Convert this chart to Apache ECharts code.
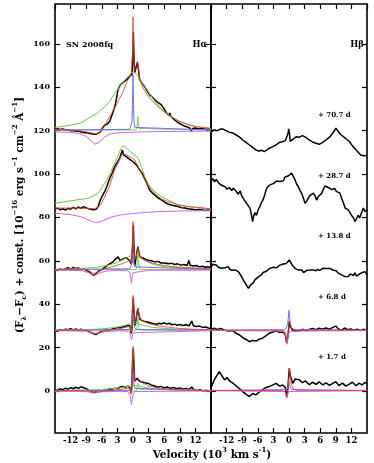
<!DOCTYPE html>
<html><head><meta charset="utf-8">
<script src="https://cdn.jsdelivr.net/npm/echarts@6/dist/echarts.min.js"></script>
<style>html,body{margin:0;padding:0;background:#fff}#c{width:374px;height:463px}</style>
</head><body><div id="c"></div>
<script>
// ---------------- DATA ----------------
const epochs = ['+ 70.7 d', '+ 28.7 d', '+ 13.8 d', '+ 6.8 d', '+ 1.7 d'];
const yTicks = [0, 20, 40, 60, 80, 100, 120, 140, 160];
const xTickLabels = {'-12':'-12','-9':'-9','-6':'-6','-3':'3','0':'0','3':'3','6':'6','9':'9','12':'12'};

// H-alpha, +70.7 d
const ha70_obs = [[-15,120.6],[-14.5,120.9],[-14,120.5],[-13.5,120.8],[-13,120.3],[-12.5,120.4],[-12,119.9],[-11.5,120.1],[-11,119.7],[-10.5,119.8],[-10,119.4],[-9.5,119.2],[-9,119.0],[-8.5,118.8],[-8,118.6],[-7.5,118.3],[-7,118.5],[-6.5,119.0],[-6.1,120.0],[-5.8,121.5],[-5.44,122.5],[-5,123.0],[-4.5,124.2],[-4,127.5],[-3.5,131.0],[-3.2,134.5],[-2.87,139.0],[-2.5,140.8],[-2.23,141.7],[-1.8,142.5],[-1.28,143.4],[-0.9,144.2],[-0.63,145.0],[-0.35,145.5],[-0.18,146.0],[-0.05,155],[0.07,165.5],[0.2,152],[0.33,146.8],[0.6,147.5],[0.84,151.5],[1.05,148],[1.29,143.5],[1.7,142.0],[2.25,140.3],[2.7,138.5],[3.2,136.5],[3.7,135.5],[4.17,134.2],[4.8,133.0],[5.45,131.9],[6.0,130.0],[6.5,128.0],[6.9,127.0],[7.06,128.2],[7.3,126.5],[8.0,125.0],[8.66,123.7],[9.5,122.6],[10.0,122.0],[10.6,121.6],[11.0,121.0],[11.2,119.8],[11.5,121.0],[12.0,121.2],[12.5,120.8],[13.15,121.0],[13.8,120.7],[14.5,120.9],[15,120.8]];
const ha70_fit = [[-15,120.6],[-10,119.9],[-8.5,119.2],[-7.4,118.6],[-6.5,119.0],[-6.1,120.0],[-5.5,122.0],[-4.9,124.9],[-4,128.5],[-2.87,133.4],[-2,137.5],[-1.28,141.9],[-0.7,144.5],[-0.3,146.5],[-0.1,155],[0.0,172.5],[0.1,160],[0.25,147.5],[0.5,146.8],[0.75,149.5],[0.88,152],[1.0,150],[1.29,143.5],[2,139.5],[3,135.5],[4.17,132.6],[5.5,129.5],[7,126.8],[8.66,124.6],[10.5,122.8],[12,121.8],[13.8,121.4],[15,121.0]];
const ha70_broad = [[-15,121.5],[-12,122.5],[-10,123.5],[-8.6,125.7],[-7,127.8],[-5.44,131],[-4.5,133.5],[-3.52,137.2],[-2.5,140.5],[-1.5,143.5],[-0.8,145.5],[-0.3,146.8],[0.0,147.2],[0.3,146.8],[0.8,145.5],[1.5,143],[2.5,139.5],[3.5,136],[4.17,133.5],[5.5,130],[7,127],[8.66,124.7],[10.6,122.8],[12.5,121.8],[15,121.0]];
const ha70_nii = [[-15,120.3],[0.6,120.3],[0.75,121],[0.85,123.5],[0.94,126.5],[1.03,123.5],[1.13,121],[1.3,120.3],[15,120.3]];
const ha70_narrow = [[-15,120.3],[-0.6,120.6],[-0.35,121.5],[-0.2,124],[-0.1,132],[0,145.7],[0.1,132],[0.2,124],[0.35,121.5],[0.6,120.6],[15,120.3]];
const ha70_abs = [[-15,119.4],[-12,119.2],[-10,118.5],[-9,117.3],[-8,115.2],[-7.3,113.7],[-6.5,114.7],[-5.5,117],[-4.5,118.4],[-3,119.0],[0,119.3],[5,119.6],[15,119.8]];

// H-alpha, +28.7 d
const ha28_obs = [[-15,83.8],[-14.5,84.3],[-14,83.5],[-13.5,84.0],[-13,83.4],[-12.5,84.2],[-12,83.8],[-11.5,84.6],[-11,83.9],[-10.5,84.8],[-10,84.2],[-9.5,85.0],[-9,84.3],[-8.65,84.8],[-8.3,83.9],[-8,84.6],[-7.6,83.5],[-7.37,83.0],[-7.05,83.8],[-6.7,85.0],[-6.4,87.3],[-6,89.5],[-5.44,91.9],[-5,94.5],[-4.48,98.0],[-4,100.5],[-3.52,103.4],[-3,105.5],[-2.56,107.3],[-2.3,108.2],[-2.04,111.1],[-1.8,108.8],[-1.6,108.2],[-1.2,107.8],[-0.9,107.2],[-0.63,106.8],[-0.2,106.0],[0.33,105.0],[0.8,103.8],[1.29,101.9],[1.8,100.2],[2.25,98.0],[2.7,95.5],[3.2,92.6],[3.7,91.3],[4.17,90.4],[4.8,89.0],[5.45,88.1],[6.1,87.0],[6.73,86.2],[7.5,85.6],[8.2,85.3],[8.66,85.0],[9.3,84.5],[10,84.3],[10.6,84.0],[11.3,83.8],[12,83.5],[12.6,83.7],[13.15,83.5],[13.8,83.2],[14.4,83.4],[15,83.3]];
const ha28_fit = [[-15,84.3],[-10,84.3],[-7.4,84.0],[-6.7,84.8],[-6.2,85.8],[-5.44,89.6],[-4.5,94.5],[-3.52,101.9],[-2.8,105.5],[-2.3,108.3],[-1.9,109.3],[-1.4,109.0],[-0.8,108.2],[0.33,106.5],[1.3,102.0],[2.25,97.3],[3.2,93.8],[4.17,91.1],[5.45,88.5],[6.73,87.3],[8.66,85.8],[10.6,85.0],[13,84.5],[15,84.0]];
const ha28_broad = [[-15,86.5],[-11.9,87.7],[-8.65,88.8],[-6.7,91.1],[-5.44,95.7],[-4.5,99.8],[-3.52,105],[-2.8,109],[-2.3,111.8],[-1.9,113],[-1.4,112.3],[-0.6,110.5],[0.3,108.8],[0.97,107.3],[1.6,103.5],[2.25,98.8],[3.2,94.5],[4.17,91.9],[5.45,89.5],[6.73,88.1],[8.66,85.8],[10.6,85.0],[13,84.3],[15,83.8]];
const ha28_abs = [[-15,81.9],[-12,81.3],[-10,80.3],[-9,79.3],[-8,78.2],[-7,77.6],[-6,78.2],[-5,79.3],[-4,80.3],[-2,81.3],[0,81.8],[3,82.4],[6,82.8],[10,83.0],[15,83.1]];

// H-alpha, +13.8 d
const ha13_obs = [[-15,56.0],[-14.5,55.5],[-14,56.3],[-13.5,55.7],[-13,56.4],[-12.5,56.8],[-12,56.2],[-11.5,56.9],[-11,56.4],[-10.5,56.7],[-10,56.1],[-9.5,56.4],[-9,55.6],[-8.5,55.0],[-8,54.0],[-7.6,53.2],[-7.3,53.6],[-7,54.4],[-6.5,55.5],[-6,56.0],[-5.5,56.8],[-5,57.8],[-4.5,58.6],[-4,59.2],[-3.52,60.4],[-3.2,59.5],[-2.87,61.8],[-2.5,60.2],[-2.23,60.7],[-1.8,61.0],[-1.28,61.4],[-0.9,60.6],[-0.63,60.0],[-0.3,58.5],[-0.1,66],[0.07,76.5],[0.2,65],[0.32,57.5],[0.5,60],[0.75,64],[0.95,66.5],[1.15,63.5],[1.35,61.8],[1.6,62.3],[2.0,61.2],[2.5,60.6],[2.89,60.3],[3.5,60.0],[4.17,59.5],[4.8,59.7],[5.4,59.0],[6.1,59.0],[6.8,58.6],[7.4,58.9],[8.0,58.3],[8.6,58.6],[9.2,58.0],[9.8,58.3],[10.4,57.8],[10.75,60.2],[11.0,57.9],[11.6,57.6],[12.2,57.8],[12.8,57.2],[13.3,57.5],[13.9,57.0],[14.5,57.2],[15,56.8]];
const ha13_fit = [[-15,56.0],[-9,55.9],[-8,54.8],[-7.4,54.0],[-6.6,55.0],[-5.5,56.3],[-4,57.3],[-3,58.0],[-2,58.8],[-1,59.8],[-0.5,60.5],[-0.3,58.3],[-0.1,66],[0.02,78],[0.12,66],[0.3,60.5],[0.6,61.5],[0.8,64],[0.95,66.5],[1.1,64],[1.35,61.5],[2,60.5],[3,59.5],[4,58.8],[5,58.2],[7,57.5],[10,56.9],[15,56.3]];
const ha13_broad = [[-15,56.0],[-10,56.4],[-7,57.0],[-5,57.8],[-3,59.2],[-1.5,61.0],[-0.5,62.3],[0.3,62.8],[1.0,62.5],[1.6,61.3],[2.5,59.8],[4,58.3],[6,57.3],[10,56.6],[15,56.2]];
const ha13_nii = [[-15,56.0],[0.6,56.0],[0.75,57.5],[0.85,61],[0.95,64.5],[1.05,61],[1.15,57.5],[1.3,56.0],[15,56.0]];
const ha13_narrow = [[-15,56.0],[-0.6,56.3],[-0.35,57.2],[-0.2,59],[-0.1,62],[0,64],[0.1,62],[0.2,59],[0.35,57.2],[0.6,56.3],[15,56.0]];
const ha13_abs = [[-15,55.7],[-10,55.5],[-8.5,54.5],[-7.4,53.2],[-6.3,54.5],[-5,55.3],[-3,55.5],[-1,55.4],[-0.6,54.5],[-0.45,52.5],[-0.3,49.6],[-0.15,52.5],[0,54.5],[0.3,55.4],[3,55.6],[15,55.7]];

// H-alpha, +6.8 d
const ha6_obs = [[-15,28.1],[-14.5,27.5],[-14,28.3],[-13.5,27.8],[-13,28.5],[-12.5,28.2],[-12,28.7],[-11.5,28.1],[-11,28.6],[-10.5,28.0],[-10,28.5],[-9.5,27.9],[-9,28.2],[-8.5,27.4],[-8,26.8],[-7.5,26.2],[-7.1,26.0],[-6.7,26.6],[-6.2,27.3],[-5.5,27.9],[-5,28.3],[-4.5,28.0],[-4,28.6],[-3.5,28.9],[-3,29.2],[-2.5,29.0],[-2,29.5],[-1.5,29.7],[-1.0,30.2],[-0.6,30.0],[-0.35,26.5],[-0.2,28],[-0.08,38],[0.05,43],[0.18,36],[0.32,30],[0.5,31.5],[0.75,35.5],[0.92,38.0],[1.1,35.5],[1.35,33.0],[1.8,32.4],[2.3,32.0],[2.8,31.8],[3.4,31.3],[4.0,31.0],[4.5,30.7],[5.0,31.2],[5.45,30.9],[6.0,31.4],[6.5,30.8],[7.0,31.2],[7.5,30.5],[8.0,30.8],[8.5,30.3],[9.0,30.6],[9.6,30.2],[10.2,30.5],[10.8,30.0],[11.3,32.2],[11.6,30.0],[12.2,29.7],[12.8,29.9],[13.4,29.3],[14,29.5],[14.5,29.0],[15,28.8]];
const ha6_fit = [[-15,28.0],[-9,27.9],[-8,27.2],[-7.3,26.5],[-6.5,27.0],[-5,27.8],[-3,28.5],[-1.5,29.3],[-0.6,29.8],[-0.35,27.5],[-0.2,30],[-0.08,39],[0.03,44],[0.13,39],[0.3,31.5],[0.55,32.5],[0.8,36.5],[0.95,38.3],[1.1,36],[1.4,33.2],[2,32.2],[3,31.0],[5,30.0],[8,29.0],[11,28.5],[15,28.2]];
const ha6_broad = [[-15,28.0],[-10,28.2],[-6,28.6],[-3,29.4],[-1.5,30.3],[-0.5,31.0],[0.3,31.3],[1,31.0],[2,30.2],[4,29.2],[8,28.5],[15,28.2]];
const ha6_nii = [[-15,28.0],[0.6,28.0],[0.75,29.2],[0.85,31.5],[0.95,34],[1.05,31.5],[1.15,29.2],[1.3,28.0],[15,28.0]];
const ha6_narrow = [[-15,28.0],[-0.6,28.3],[-0.35,29.3],[-0.2,31],[-0.1,34],[0,36],[0.1,34],[0.2,31],[0.35,29.3],[0.6,28.3],[15,28.0]];
const ha6_abs = [[-15,27.8],[-9,27.5],[-7.3,26.3],[-5.5,27.3],[-3,27.7],[-1,27.6],[-0.6,26.5],[-0.45,25],[-0.3,23.5],[-0.15,25],[0,26.8],[0.3,27.6],[15,27.8]];

// H-alpha, +1.7 d
const ha1_obs = [[-15,0.6],[-14.5,0.2],[-14,1.0],[-13.5,0.5],[-13,1.3],[-12.5,0.8],[-12,1.5],[-11.5,1.0],[-11,1.7],[-10.5,1.2],[-10,1.9],[-9.5,1.5],[-9.0,1.0],[-8.5,0.4],[-8,-0.3],[-7.5,-0.7],[-7.1,-0.2],[-6.6,0.3],[-6,0.0],[-5.5,0.6],[-5,0.4],[-4.5,1.0],[-4,0.7],[-3.5,1.3],[-3,1.0],[-2.5,1.7],[-2,2.0],[-1.5,1.6],[-1,2.2],[-0.6,1.5],[-0.35,-1.0],[-0.2,3],[-0.08,14],[0.05,19.5],[0.18,12],[0.32,4.5],[0.5,4.0],[0.75,5.8],[0.92,6.6],[1.1,5.5],[1.4,4.3],[1.9,4.0],[2.4,3.6],[2.9,3.5],[3.5,2.8],[4.1,2.3],[4.8,1.7],[5.4,2.1],[6.0,1.4],[6.6,1.8],[7.2,1.2],[7.8,1.6],[8.4,1.0],[9.0,1.4],[9.6,0.8],[10.2,1.2],[10.8,0.6],[11.3,1.8],[11.7,0.5],[12.3,0.2],[12.9,0.6],[13.5,-0.1],[14.1,0.3],[14.6,-0.2],[15,0.1]];
const ha1_fit = [[-15,0.2],[-9,0.1],[-7.5,-0.8],[-6,-0.2],[-3,0.5],[-1,1.2],[-0.5,1.3],[-0.35,-1.5],[-0.2,2],[-0.08,14],[0.03,20.5],[0.13,14],[0.3,4.5],[0.55,4.8],[0.8,6.2],[0.95,6.8],[1.1,6],[1.4,4.5],[2,3.5],[3,2.3],[5,1.3],[8,0.6],[11,0.3],[15,0.2]];
const ha1_broad = [[-15,0.2],[-6,0.6],[-3,1.2],[-1.5,1.8],[-0.5,2.3],[0.3,2.6],[1,2.4],[2,1.8],[4,1.0],[8,0.5],[15,0.2]];
const ha1_nii = [[-15,0.0],[0.6,0.0],[0.75,0.8],[0.85,2.2],[0.95,3.5],[1.05,2.2],[1.15,0.8],[1.3,0.0],[15,0.0]];
const ha1_narrow = [[-15,0.0],[-0.6,0.3],[-0.35,1.2],[-0.2,3],[-0.1,5.5],[0,8],[0.1,5.5],[0.2,3],[0.35,1.2],[0.6,0.3],[15,0.0]];
const ha1_abs = [[-15,-0.1],[-9,-0.3],[-7.5,-1.0],[-6,-0.4],[-3,-0.2],[-1,-0.3],[-0.6,-1.8],[-0.45,-4],[-0.3,-6.5],[-0.15,-4],[0,-1.8],[0.3,-0.3],[15,0]];

// H-beta, +70.7 d
const hb70_obs = [[-15,119.5],[-14.4,120.3],[-13.8,120.0],[-13.3,120.6],[-12.76,120.8],[-12.2,120.1],[-11.5,119.3],[-10.9,119.0],[-10.2,118.1],[-9.5,117.0],[-8.9,115.7],[-8.2,114.5],[-7.6,113.4],[-7.0,112.3],[-6.35,111.1],[-5.8,110.6],[-5.3,111.0],[-4.75,110.3],[-4.2,111.2],[-3.8,111.9],[-3.2,112.5],[-2.5,113.4],[-1.9,114.5],[-1.2,115.0],[-0.7,115.4],[-0.39,115.7],[-0.15,119],[-0.07,120.8],[0.05,119.5],[0.25,115.0],[0.7,116.0],[1.35,117.2],[2.0,117.0],[2.6,117.7],[3.3,116.8],[3.9,115.7],[4.5,114.8],[5.2,114.2],[5.8,113.7],[6.4,114.5],[7.1,115.7],[7.8,117.0],[8.4,118.8],[9.03,121.1],[9.5,119.5],[10.0,118.1],[10.8,116.6],[11.6,115.0],[12.2,113.0],[12.9,111.1],[13.4,109.8],[13.8,108.8],[14.4,108.4],[15,108.5]];

// H-beta, +28.7 d
const hb28_obs = [[-15,96.5],[-14.6,97.8],[-14.3,96.4],[-14.0,97.5],[-13.6,96.0],[-13.3,95.8],[-12.9,94.7],[-12.6,95.5],[-12.3,94.2],[-11.9,93.0],[-11.5,93.8],[-11.0,92.4],[-10.7,93.5],[-10.4,94.2],[-10.1,91.8],[-9.75,90.7],[-9.4,92.3],[-9.1,90.0],[-8.8,88.8],[-8.5,89.6],[-8.15,86.5],[-7.8,85.8],[-7.5,84.3],[-7.25,81.5],[-7.0,78.1],[-6.8,80.6],[-6.55,82.2],[-6.25,81.0],[-5.9,83.7],[-5.6,85.0],[-5.3,86.8],[-4.95,88.3],[-4.6,91.0],[-4.3,93.4],[-4.0,94.0],[-3.7,95.0],[-3.4,94.2],[-3.0,95.6],[-2.7,95.8],[-2.4,96.8],[-2.1,95.9],[-1.75,96.6],[-1.4,97.5],[-1.1,96.8],[-0.8,98.5],[-0.45,98.1],[-0.1,99.2],[0.2,99.6],[0.5,100.4],[0.8,99.0],[1.15,97.4],[1.5,95.2],[1.8,94.2],[2.1,92.5],[2.45,91.0],[2.75,90.3],[3.1,86.5],[3.4,87.5],[3.7,88.0],[4.0,90.0],[4.35,89.2],[4.7,91.2],[5.0,90.0],[5.3,88.0],[5.6,89.5],[5.95,90.0],[6.3,91.2],[6.6,93.0],[6.9,94.5],[7.2,95.0],[7.55,93.8],[7.9,94.2],[8.2,92.8],[8.5,93.6],[8.8,93.4],[9.1,92.0],[9.45,92.5],[9.8,91.2],[10.1,89.0],[10.45,86.8],[10.8,84.3],[11.1,85.0],[11.4,83.5],[11.7,82.7],[12.0,81.0],[12.35,80.0],[12.7,78.1],[13.0,79.5],[13.3,81.0],[13.6,79.8],[14.0,82.5],[14.3,84.3],[14.6,82.8],[15,83.4]];

// H-beta, +13.8 d
const hb13_obs = [[-15,57.3],[-14.6,58.4],[-14.3,57.6],[-14.0,58.1],[-13.6,57.0],[-13.3,56.4],[-12.95,56.6],[-12.6,57.5],[-12.3,56.8],[-12.0,57.7],[-11.7,57.3],[-11.4,56.2],[-11.0,55.6],[-10.7,55.0],[-10.4,55.8],[-10.1,55.2],[-9.75,55.0],[-9.4,53.8],[-9.1,52.6],[-8.8,51.2],[-8.5,50.0],[-8.2,49.2],[-7.8,47.3],[-7.5,48.6],[-7.2,48.9],[-6.9,49.8],[-6.55,51.2],[-6.2,51.8],[-5.9,52.6],[-5.6,53.0],[-5.3,53.5],[-5.0,54.6],[-4.7,54.2],[-4.35,55.2],[-4.0,55.8],[-3.7,56.5],[-3.35,56.0],[-3.0,57.0],[-2.7,57.3],[-2.4,56.8],[-2.05,57.6],[-1.75,58.0],[-1.4,57.3],[-1.1,58.5],[-0.8,59.0],[-0.5,58.8],[-0.2,59.5],[0.05,60.4],[0.35,59.5],[0.6,58.1],[0.9,57.5],[1.2,56.4],[1.5,56.8],[1.8,55.8],[2.1,55.2],[2.45,55.8],[2.8,54.6],[3.1,55.0],[3.45,55.6],[3.8,55.0],[4.1,55.7],[4.4,55.3],[4.7,55.8],[5.1,55.4],[5.5,56.0],[5.9,55.6],[6.25,56.3],[6.6,56.6],[6.9,56.0],[7.25,56.4],[7.6,55.8],[7.9,56.5],[8.2,55.8],[8.5,55.6],[8.8,56.2],[9.1,55.4],[9.45,54.3],[9.8,55.0],[10.1,53.5],[10.45,52.7],[10.8,52.7],[11.1,53.6],[11.45,52.8],[11.8,54.0],[12.1,54.2],[12.4,53.2],[12.7,54.5],[13.0,52.9],[13.3,52.7],[13.6,54.0],[14.0,54.5],[14.3,53.7],[14.6,55.0],[15,53.5]];

// H-beta, +6.8 d
const hb6_obs = [[-15,28.1],[-14.4,28.9],[-13.8,28.3],[-13.1,28.8],[-12.4,28.0],[-11.5,27.6],[-10.8,27.9],[-10.2,26.6],[-9.5,25.8],[-8.9,24.6],[-8.2,23.6],[-7.6,22.7],[-7.0,23.3],[-6.35,23.0],[-5.7,23.9],[-5.1,24.3],[-4.4,25.5],[-3.8,26.6],[-3.1,27.2],[-2.5,27.6],[-1.8,27.0],[-1.2,27.2],[-0.7,26.0],[-0.45,22.0],[-0.2,25],[0.05,32.0],[0.3,29.5],[0.7,28.0],[1.3,27.6],[2.0,27.9],[2.7,28.4],[3.3,27.8],[3.9,28.3],[4.5,28.8],[5.2,28.2],[5.8,28.9],[6.5,28.5],[7.1,29.0],[7.8,28.4],[8.4,29.3],[9.0,29.9],[9.5,28.6],[10.1,28.0],[10.7,29.0],[11.3,28.2],[11.9,28.6],[12.5,27.9],[13.1,28.5],[13.7,27.8],[14.3,28.4],[15,28.0]];
const hb6_fit = [[-15,28.0],[-1.5,28.0],[-0.9,27.5],[-0.6,25.5],[-0.45,22.5],[-0.3,24],[-0.1,28.5],[0.05,32.5],[0.2,31],[0.45,29],[0.8,28.3],[1.5,28.0],[15,28.0]];
const hb6_narrow = [[-15,28.0],[-1,28.2],[-0.5,29],[-0.25,31],[-0.1,34.5],[0.0,37.2],[0.1,34.5],[0.25,31],[0.5,29],[1,28.2],[15,28.0]];
const hb6_abs = [[-15,27.9],[-1.2,27.6],[-0.8,26.5],[-0.55,24.5],[-0.4,21.5],[-0.25,24],[-0.1,26.5],[0.2,27.5],[15,27.9]];

// H-beta, +1.7 d
const hb1_obs = [[-15,1.2],[-14.5,4.5],[-14.0,6.6],[-13.4,8.9],[-12.9,7.0],[-12.4,5.1],[-11.9,6.2],[-11.5,4.7],[-10.9,3.8],[-10.2,2.4],[-9.6,1.2],[-8.9,-0.3],[-8.3,-1.5],[-7.6,-2.6],[-7.0,-1.2],[-6.35,-1.8],[-5.7,-0.5],[-5.1,0.5],[-4.5,1.5],[-3.8,2.0],[-3.1,2.8],[-2.5,3.5],[-1.8,2.2],[-1.2,2.7],[-0.7,1.5],[-0.45,-2.6],[-0.25,0],[0.05,10.4],[0.3,6.5],[0.7,3.5],[1.2,5.5],[2.0,5.1],[2.6,3.8],[3.2,4.6],[3.9,2.8],[4.5,4.0],[5.2,3.0],[5.8,4.2],[6.5,2.8],[7.1,3.7],[7.8,2.6],[8.4,3.5],[9.0,4.3],[9.6,2.5],[10.3,3.6],[10.9,2.2],[11.6,3.1],[12.2,4.0],[12.9,2.4],[13.5,3.6],[14.1,2.7],[14.6,4.0],[15,3.2]];
const hb1_fit = [[-15,0.2],[-1.3,0.2],[-0.8,-0.3],[-0.6,-1.5],[-0.45,-3.2],[-0.3,-1.5],[-0.1,4],[0.08,10.2],[0.25,7.5],[0.45,3],[0.8,1],[1.5,0.3],[15,0.2]];
const hb1_narrow = [[-15,0.2],[-0.5,0.6],[-0.2,2],[0,4.5],[0.2,2],[0.5,0.6],[15,0.2]];
const hb1_abs = [[-15,0.1],[-0.8,-0.3],[-0.5,-1.5],[-0.4,-3.0],[-0.25,-1.5],[0,-0.3],[15,0.1]];

// ---------------- CHART ----------------
const FONT = '"DejaVu Serif", serif';
const COL = {obs:'#000000', fit:'#f03c2a', broad:'#6acb3a', nii:'#7ad84a', narrow:'#6b6bff', abs:'#cc66ee'};
const chart = echarts.init(document.getElementById('c'), null, {renderer:'canvas'});

function ser(data, kind, panel) {
  const w = kind === 'obs' ? 1.5 : 1;
  const z = {obs:2, broad:3, nii:3, narrow:4, abs:4, fit:5}[kind];
  return {type:'line', xAxisIndex: panel*2, yAxisIndex: panel*2, data: data,
    showSymbol:false, symbol:'none', silent:true, animation:false, z: z,
    lineStyle:{color: COL[kind], width: w, opacity: kind === 'fit' ? 0.85 : 1}};
}
const series = [];
[[ha70_obs,'obs'],[ha28_obs,'obs'],[ha13_obs,'obs'],[ha6_obs,'obs'],[ha1_obs,'obs'],
 [ha70_broad,'broad'],[ha28_broad,'broad'],[ha13_broad,'broad'],[ha6_broad,'broad'],[ha1_broad,'broad'],
 [ha70_nii,'nii'],[ha13_nii,'nii'],[ha6_nii,'nii'],[ha1_nii,'nii'],
 [ha70_narrow,'narrow'],[ha13_narrow,'narrow'],[ha6_narrow,'narrow'],[ha1_narrow,'narrow'],
 [ha70_abs,'abs'],[ha28_abs,'abs'],[ha13_abs,'abs'],[ha6_abs,'abs'],[ha1_abs,'abs'],
 [ha70_fit,'fit'],[ha28_fit,'fit'],[ha13_fit,'fit'],[ha6_fit,'fit'],[ha1_fit,'fit']
].forEach(p => series.push(ser(p[0], p[1], 0)));
[[hb70_obs,'obs'],[hb28_obs,'obs'],[hb13_obs,'obs'],[hb6_obs,'obs'],[hb1_obs,'obs'],
 [hb6_narrow,'narrow'],[hb1_narrow,'narrow'],[hb6_abs,'abs'],[hb1_abs,'abs'],
 [hb6_fit,'fit'],[hb1_fit,'fit']
].forEach(p => series.push(ser(p[0], p[1], 1)));

function xAx(gi, pos, labels) {
  return {type:'value', gridIndex:gi, position:pos, min:-15, max:15, interval:3,
    axisLine:{show:false, onZero:false}, splitLine:{show:false},
    axisTick:{show:true, inside:true, length:5, lineStyle:{color:'#000', width:1.2}},
    axisLabel:{show:labels, margin:3, fontFamily:FONT, fontWeight:'bold', fontSize:8.5, color:'#000',
      showMinLabel:false, showMaxLabel:false,
      formatter: v => (xTickLabels[String(v)] !== undefined ? xTickLabels[String(v)] : '')}};
}
function yAx(gi, pos, labels) {
  return {type:'value', gridIndex:gi, position:pos, min:-19.4, max:178.4,
    axisLine:{show:false, onZero:false}, splitLine:{show:false},
    axisTick:{show:true, inside:true, length:5, customValues:yTicks, lineStyle:{color:'#000', width:1.2}},
    axisLabel:{show:labels, customValues:yTicks, margin:5, fontFamily:FONT, fontWeight:'bold', fontSize:8, color:'#000'}};
}

const txt = (x, y, text, size, align) => ({type:'text', x:x, y:y, silent:true,
  style:{text:text, fontFamily:FONT, fontWeight:'bold', fontSize:size, fill:'#000', align:align||'left', verticalAlign:'middle'}});
const richBase = {fontFamily:FONT, fontWeight:'bold', fill:'#000'};
const rich = {
  a: Object.assign({fontSize:10.5, lineHeight:16}, richBase),
  sup: Object.assign({fontSize:7, verticalAlign:'top'}, richBase),
  sub: Object.assign({fontSize:7, verticalAlign:'bottom'}, richBase)
};
const epochY = [115, 175.7, 236.5, 296.7, 357.5];

chart.setOption({
  animation:false,
  grid:[
    {left:55, top:4, width:156, height:429, show:true, borderColor:'#000', borderWidth:1.6, backgroundColor:'transparent'},
    {left:211, top:4, width:156, height:429, show:true, borderColor:'#000', borderWidth:1.6, backgroundColor:'transparent'}
  ],
  xAxis:[xAx(0,'bottom',true), xAx(0,'top',false), xAx(1,'bottom',true), xAx(1,'top',false)],
  yAxis:[yAx(0,'left',true), yAx(0,'right',false), yAx(1,'left',false), yAx(1,'right',false)],
  series: series,
  graphic:[
    txt(66, 45, 'SN 2008fq', 8),
    txt(207, 45, 'Hα', 8.5, 'right'),
    txt(364, 45, 'Hβ', 8.5, 'right'),
    ...epochs.map((e, i) => txt(318, epochY[i], e, 7)),
    {type:'text', x:212, y:455, silent:true,
      style:{text:'{a|Velocity (10}{sup|3}{a| km s}{sup|-1}{a|)}', rich:rich, align:'center', verticalAlign:'middle'}},
    {type:'text', x:20, y:215, rotation:Math.PI/2, silent:true,
      style:{text:'{a|(F}{sub|λ}{a|−F}{sub|c}{a|) + const. [10}{sup|−16}{a| erg s}{sup|−1}{a| cm}{sup|−2}{a| Å}{sup|−1}{a|]}', rich:rich, align:'center', verticalAlign:'middle'}}
  ]
});
</script>
</body></html>
